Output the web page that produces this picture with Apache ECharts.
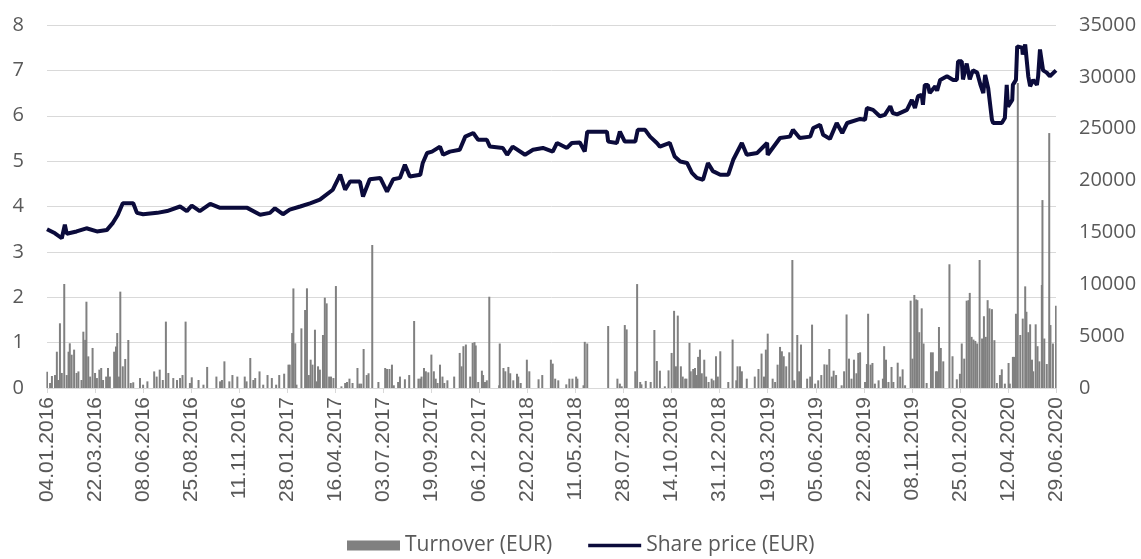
<!DOCTYPE html>
<html>
<head>
<meta charset="utf-8">
<script src="https://cdn.jsdelivr.net/npm/echarts@6/dist/echarts.min.js"></script>
<style>html,body{margin:0;padding:0;background:#fff}#c{width:1141px;height:559px}</style>
</head>
<body>
<div id="c"></div>
<script>
const xTickLabels = ['04.01.2016','22.03.2016','08.06.2016','25.08.2016','11.11.2016','28.01.2017','16.04.2017','03.07.2017','19.09.2017','06.12.2017','22.02.2018','11.05.2018','28.07.2018','14.10.2018','31.12.2018','19.03.2019','05.06.2019','22.08.2019','08.11.2019','25.01.2020','12.04.2020','29.06.2020'];

const priceDates = ['2016-01-04','2016-01-17','2016-01-28','2016-02-02','2016-02-05','2016-02-21','2016-03-08','2016-03-25','2016-04-10','2016-04-20','2016-04-28','2016-05-06','2016-05-23','2016-05-29','2016-06-08','2016-07-01','2016-07-17','2016-08-07','2016-08-18','2016-08-26','2016-09-08','2016-09-25','2016-10-11','2016-11-01','2016-11-24','2016-12-15','2016-12-31','2017-01-08','2017-01-21','2017-02-01','2017-02-18','2017-03-06','2017-03-22','2017-04-12','2017-04-24','2017-05-02','2017-05-10','2017-05-26','2017-05-31','2017-06-11','2017-06-28','2017-07-09','2017-07-19','2017-07-30','2017-08-07','2017-08-15','2017-09-01','2017-09-05','2017-09-12','2017-09-20','2017-10-03','2017-10-08','2017-10-19','2017-11-04','2017-11-13','2017-11-26','2017-12-04','2017-12-18','2017-12-23','2018-01-13','2018-01-20','2018-01-29','2018-02-18','2018-03-03','2018-03-19','2018-04-04','2018-04-11','2018-04-27','2018-05-05','2018-05-18','2018-05-26','2018-05-30','2018-07-01','2018-07-03','2018-07-17','2018-07-22','2018-07-30','2018-08-16','2018-08-20','2018-09-01','2018-09-09','2018-09-20','2018-09-25','2018-10-11','2018-10-19','2018-10-28','2018-11-08','2018-11-16','2018-11-24','2018-12-04','2018-12-12','2018-12-20','2019-01-01','2019-01-14','2019-01-22','2019-02-05','2019-02-13','2019-03-02','2019-03-18','2019-03-19','2019-04-08','2019-04-24','2019-04-29','2019-05-10','2019-05-27','2019-06-01','2019-06-12','2019-06-17','2019-06-28','2019-07-09','2019-07-18','2019-07-26','2019-08-16','2019-08-24','2019-08-27','2019-09-06','2019-09-17','2019-09-25','2019-10-04','2019-10-08','2019-10-15','2019-10-31','2019-11-08','2019-11-13','2019-11-18','2019-11-24','2019-11-26','2019-11-29','2019-12-04','2019-12-07','2019-12-16','2019-12-19','2019-12-24','2020-01-04','2020-01-14','2020-01-20','2020-01-22','2020-01-28','2020-01-30','2020-02-05','2020-02-10','2020-02-15','2020-02-22','2020-02-27','2020-03-03','2020-03-06','2020-03-11','2020-03-17','2020-03-19','2020-04-02','2020-04-07','2020-04-10','2020-04-12','2020-04-19','2020-04-20','2020-04-25','2020-04-27','2020-05-05','2020-05-06','2020-05-10','2020-05-15','2020-05-18','2020-05-23','2020-05-29','2020-05-31','2020-06-03','2020-06-08','2020-06-14','2020-06-19','2020-06-29'];
const priceValues = [3.50,3.41,3.30,3.60,3.40,3.45,3.52,3.45,3.48,3.64,3.82,4.07,4.07,3.86,3.83,3.86,3.90,4.00,3.90,4.02,3.90,4.06,3.97,3.97,3.97,3.82,3.86,3.96,3.83,3.93,4.00,4.07,4.15,4.37,4.70,4.37,4.55,4.55,4.22,4.60,4.63,4.33,4.60,4.63,4.92,4.66,4.70,4.96,5.18,5.21,5.32,5.14,5.21,5.25,5.54,5.62,5.47,5.47,5.32,5.29,5.14,5.32,5.14,5.25,5.29,5.21,5.40,5.29,5.40,5.41,5.21,5.65,5.65,5.43,5.40,5.65,5.43,5.43,5.69,5.69,5.54,5.40,5.32,5.40,5.10,4.99,4.96,4.74,4.63,4.59,4.96,4.78,4.70,4.70,5.03,5.40,5.14,5.18,5.40,5.14,5.51,5.54,5.69,5.51,5.54,5.73,5.80,5.58,5.49,5.84,5.62,5.84,5.93,5.91,6.17,6.13,5.99,6.02,6.21,6.06,6.03,6.13,6.35,6.17,6.43,6.46,6.24,6.68,6.68,6.50,6.65,6.55,6.79,6.87,6.79,6.79,7.20,7.20,6.80,7.15,6.80,7.00,6.95,6.70,6.50,6.90,6.60,5.91,5.84,5.84,5.95,6.68,6.20,6.35,6.68,6.79,7.53,7.50,7.35,7.57,6.87,6.65,6.79,6.68,6.87,7.46,7.00,6.95,6.87,7.00];

const turnoverDates = ['2016-01-04','2016-01-09','2016-01-12','2016-01-17','2016-01-20','2016-01-22','2016-01-25','2016-01-28','2016-02-01','2016-02-05','2016-02-08','2016-02-10','2016-02-13','2016-02-17','2016-02-21','2016-02-24','2016-02-29','2016-03-03','2016-03-06','2016-03-08','2016-03-11','2016-03-14','2016-03-18','2016-03-22','2016-03-25','2016-03-29','2016-04-01','2016-04-04','2016-04-09','2016-04-12','2016-04-15','2016-04-22','2016-04-25','2016-04-27','2016-04-30','2016-05-02','2016-05-06','2016-05-10','2016-05-15','2016-05-19','2016-05-23','2016-06-03','2016-06-08','2016-06-15','2016-06-26','2016-06-30','2016-07-05','2016-07-10','2016-07-15','2016-07-19','2016-07-27','2016-08-02','2016-08-07','2016-08-11','2016-08-16','2016-08-23','2016-08-26','2016-09-06','2016-09-14','2016-09-20','2016-10-05','2016-10-11','2016-10-14','2016-10-18','2016-10-26','2016-10-31','2016-11-08','2016-11-20','2016-11-23','2016-11-29','2016-12-04','2016-12-07','2016-12-14','2016-12-20','2016-12-27','2017-01-03','2017-01-10','2017-01-15','2017-01-23','2017-01-30','2017-02-01','2017-02-05','2017-02-07','2017-02-10','2017-02-12','2017-02-20','2017-02-26','2017-03-01','2017-03-04','2017-03-07','2017-03-10','2017-03-14','2017-03-17','2017-03-19','2017-03-22','2017-03-27','2017-03-30','2017-04-02','2017-04-06','2017-04-09','2017-04-13','2017-04-17','2017-04-26','2017-05-02','2017-05-05','2017-05-09','2017-05-14','2017-05-22','2017-05-25','2017-05-28','2017-06-01','2017-06-06','2017-06-09','2017-06-15','2017-06-25','2017-07-06','2017-07-09','2017-07-13','2017-07-17','2017-07-20','2017-07-27','2017-07-30','2017-08-07','2017-08-14','2017-08-22','2017-08-29','2017-09-01','2017-09-03','2017-09-07','2017-09-10','2017-09-14','2017-09-19','2017-09-23','2017-09-26','2017-09-29','2017-10-03','2017-10-07','2017-10-10','2017-10-15','2017-10-26','2017-11-04','2017-11-07','2017-11-10','2017-11-14','2017-11-21','2017-11-25','2017-11-28','2017-11-30','2017-12-04','2017-12-10','2017-12-12','2017-12-15','2017-12-18','2017-12-22','2018-01-07','2018-01-08','2018-01-14','2018-01-17','2018-01-22','2018-01-25','2018-01-30','2018-02-05','2018-02-07','2018-02-11','2018-02-21','2018-02-25','2018-03-12','2018-03-18','2018-04-01','2018-04-04','2018-04-08','2018-04-13','2018-04-26','2018-05-01','2018-05-06','2018-05-12','2018-05-14','2018-05-24','2018-05-26','2018-05-30','2018-07-03','2018-07-18','2018-07-22','2018-07-25','2018-07-30','2018-08-02','2018-08-16','2018-08-19','2018-08-24','2018-08-26','2018-09-02','2018-09-10','2018-09-16','2018-09-20','2018-09-25','2018-10-03','2018-10-09','2018-10-14','2018-10-18','2018-10-21','2018-10-24','2018-10-29','2018-11-01','2018-11-05','2018-11-07','2018-11-12','2018-11-14','2018-11-18','2018-11-21','2018-11-24','2018-11-26','2018-11-29','2018-12-02','2018-12-06','2018-12-09','2018-12-13','2018-12-18','2018-12-21','2018-12-25','2018-12-28','2019-01-01','2019-01-14','2019-01-21','2019-01-27','2019-01-29','2019-02-02','2019-02-05','2019-02-13','2019-02-26','2019-03-04','2019-03-09','2019-03-13','2019-03-16','2019-03-19','2019-03-27','2019-03-31','2019-04-04','2019-04-08','2019-04-11','2019-04-14','2019-04-18','2019-04-23','2019-04-28','2019-05-01','2019-05-06','2019-05-09','2019-05-12','2019-05-22','2019-05-27','2019-05-30','2019-06-04','2019-06-09','2019-06-14','2019-06-19','2019-06-23','2019-06-27','2019-07-01','2019-07-04','2019-07-08','2019-07-17','2019-07-21','2019-07-25','2019-07-29','2019-08-02','2019-08-06','2019-08-10','2019-08-13','2019-08-16','2019-08-24','2019-08-27','2019-08-29','2019-09-02','2019-09-05','2019-09-09','2019-09-15','2019-09-22','2019-09-24','2019-09-27','2019-10-01','2019-10-06','2019-10-09','2019-10-16','2019-10-20','2019-10-24','2019-10-28','2019-11-06','2019-11-09','2019-11-12','2019-11-15','2019-11-17','2019-11-20','2019-11-24','2019-11-27','2019-12-02','2019-12-09','2019-12-12','2019-12-17','2019-12-19','2019-12-22','2019-12-25','2019-12-29','2020-01-08','2020-01-13','2020-01-20','2020-01-25','2020-01-28','2020-02-01','2020-02-05','2020-02-08','2020-02-10','2020-02-13','2020-02-16','2020-02-19','2020-02-22','2020-02-26','2020-03-01','2020-03-04','2020-03-07','2020-03-10','2020-03-13','2020-03-17','2020-03-21','2020-03-25','2020-03-30','2020-04-02','2020-04-07','2020-04-13','2020-04-15','2020-04-20','2020-04-22','2020-04-25','2020-04-28','2020-05-02','2020-05-06','2020-05-10','2020-05-12','2020-05-15','2020-05-18','2020-05-21','2020-05-23','2020-05-27','2020-05-30','2020-06-02','2020-06-06','2020-06-07','2020-06-10','2020-06-14','2020-06-18','2020-06-20','2020-06-24','2020-06-29'];
const turnoverValues = [1570,480,1160,1250,3500,770,6240,1450,10030,1250,3500,4310,3210,3700,1450,1600,770,5430,4640,8320,3050,1100,3860,1450,960,1770,1930,770,1100,1930,1100,3500,4000,5300,1100,9290,2090,2800,4630,480,550,960,320,640,1600,1100,1770,770,6400,1450,960,770,960,1250,6400,480,1030,770,320,2030,1100,640,770,2570,640,1250,1100,1100,640,2890,770,960,1600,320,1250,960,320,1250,1380,2250,2250,5300,9600,4310,320,5750,7520,9610,1250,2730,2250,5620,640,2090,1770,5110,8710,8160,1100,1100,960,9830,160,480,580,900,480,1930,420,420,3760,1250,1420,13790,580,1930,1830,1830,2250,260,580,1100,840,1250,6460,900,900,1100,1930,1610,1510,3220,1610,900,480,2250,1100,480,740,1100,3380,2090,4030,4190,1100,4350,4420,4100,580,1670,1250,580,740,8800,260,4290,1930,1610,2030,1420,740,1370,1100,480,2730,1610,840,1250,2730,2350,900,740,350,900,900,1100,900,260,4450,4290,5980,900,420,160,6070,5650,1610,10020,580,350,680,580,5590,2600,1670,160,1700,3380,7440,2090,6980,2090,1100,900,900,4350,1610,1830,1930,1250,3000,3700,1420,2730,1100,580,900,740,3060,1100,3540,580,4670,740,2090,2090,1610,900,1100,1830,3320,1100,3700,5240,900,580,2250,3960,3540,3060,2090,3440,12340,740,5110,1610,4190,900,1100,6110,420,740,1250,2280,2250,3760,1100,1670,1250,260,1610,7090,2830,900,2730,1420,3380,3440,580,2310,7160,2250,2410,420,740,900,4030,2730,580,2030,580,2440,1100,1800,260,8420,2830,8970,8540,8470,5380,7680,4290,480,3440,3440,1610,1610,5880,3860,2570,11930,3060,840,1370,4290,2830,8420,8470,9170,4930,4670,4540,4290,12340,4770,6920,4930,8470,7680,7600,4610,480,1250,1800,420,2410,420,3000,3000,7160,29400,5110,6690,9800,7350,5380,6140,2730,1610,6140,4030,2570,9930,18120,4770,2310,24580,6070,4290,7930];

const T0 = Date.UTC(2016, 0, 4);
const DAY = 86400000;
const toOffset = s => (Date.parse(s) - T0) / DAY;

const priceData = priceDates.map((d, i) => [toOffset(d), priceValues[i]]);
const turnoverData = turnoverDates.map((d, i) => [toOffset(d), turnoverValues[i]]);

const GRAY_TXT = '#595959';
const LINE_COLOR = '#0b0b3b';
const chart = echarts.init(document.getElementById('c'), null, {renderer: 'canvas'});
chart.setOption({
  animation: false,
  backgroundColor: '#ffffff',
  grid: {left: 47, right: 85, top: 25, bottom: 171, containLabel: false, outerBoundsMode: 'none'},
  legend: {
    left: 342, top: 530,
    itemWidth: 53, itemHeight: 10, itemGap: 36,
    symbolKeepAspect: true,
    textStyle: {fontFamily: 'Open Sans', fontSize: 21, color: GRAY_TXT},
    data: [
      {name: 'Turnover (EUR)', icon: 'rect'},
      {name: 'Share price (EUR)', icon: 'path://M0 0H53V3.5H0Z'}
    ]
  },
  xAxis: {
    type: 'value', min: 0, max: 1638, interval: 78,
    axisLine: {show: true, lineStyle: {color: '#d9d9d9', width: 1}},
    axisTick: {show: true, length: 5, lineStyle: {color: '#d9d9d9'}},
    splitLine: {show: false},
    axisLabel: {
      rotate: 90, margin: 9, fontFamily: 'Liberation Sans', fontSize: 21, color: GRAY_TXT,
      showMinLabel: true, showMaxLabel: true,
      formatter: v => xTickLabels[Math.round(v / 78)] || ''
    }
  },
  yAxis: [
    {
      type: 'value', min: 0, max: 8, interval: 1, position: 'left',
      axisLine: {show: false}, axisTick: {show: false},
      splitLine: {show: true, lineStyle: {color: '#d9d9d9', width: 1}},
      axisLabel: {margin: 23, fontFamily: 'Open Sans', fontSize: 20, color: GRAY_TXT}
    },
    {
      type: 'value', min: 0, max: 35000, interval: 5000, position: 'right',
      axisLine: {show: false}, axisTick: {show: false},
      splitLine: {show: false},
      axisLabel: {margin: 23, fontFamily: 'Open Sans', fontSize: 20, color: GRAY_TXT,
        formatter: v => String(v)}
    }
  ],
  series: [
    {
      name: 'Turnover (EUR)', type: 'bar', yAxisIndex: 1, barWidth: 2,
      itemStyle: {color: '#808080'},
      data: turnoverData, z: 2
    },
    {
      name: 'Share price (EUR)', type: 'line', yAxisIndex: 0,
      symbol: 'none', showSymbol: false,
      lineStyle: {color: LINE_COLOR, width: 4},
      itemStyle: {color: LINE_COLOR},
      data: priceData, z: 3
    }
  ]
});
</script>
</body>
</html>
